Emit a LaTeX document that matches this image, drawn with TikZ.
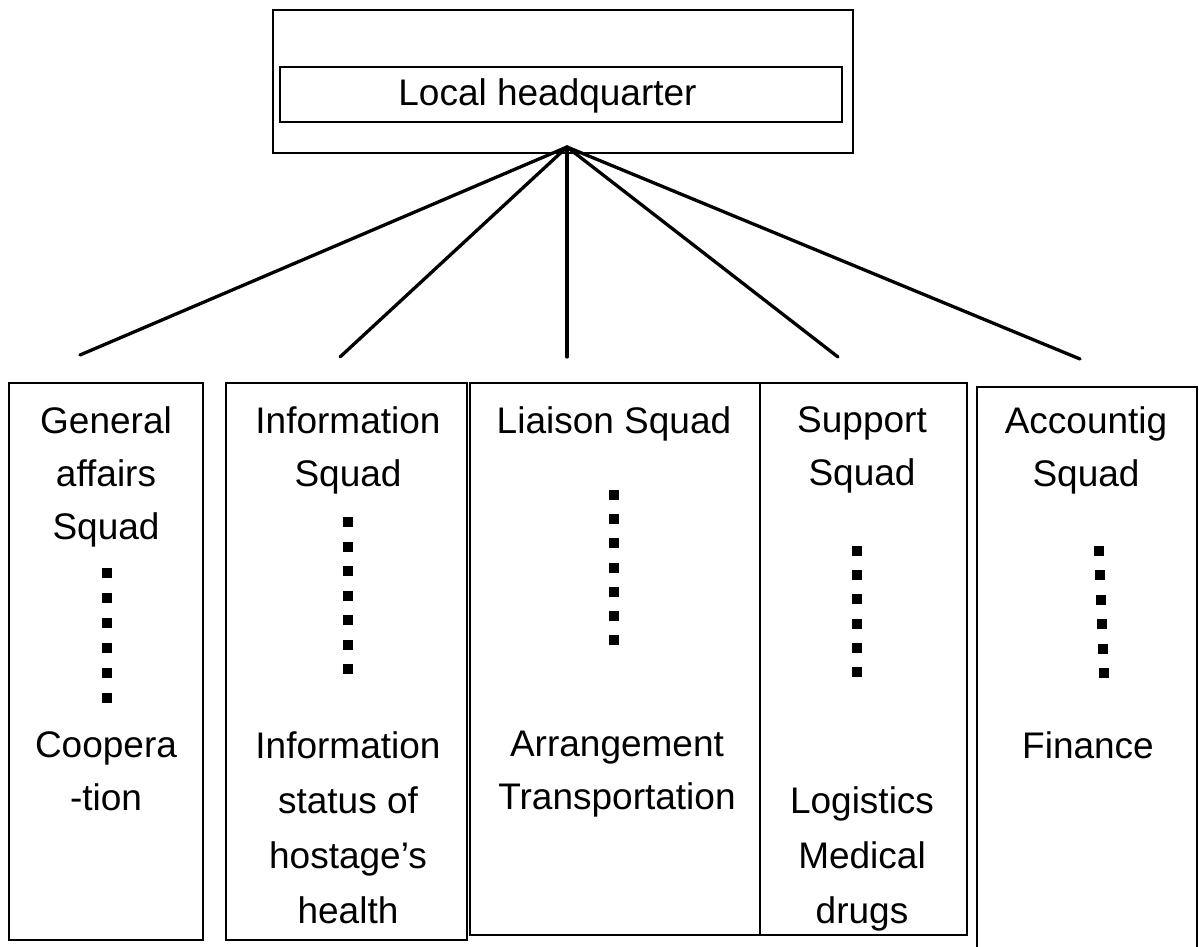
\documentclass[tikz,border=0pt]{standalone}
\usepackage{fontspec}
\setmainfont{Liberation Sans}
\begin{document}
\begin{tikzpicture}[x=1pt,y=-1pt,
  frame/.style={draw=black, line width=1.7pt, rectangle, inner sep=0pt, outer sep=0pt},
  lbl/.style={align=center, inner sep=0pt, anchor=north, font=\fontsize{37}{53}\selectfont},
  spoke/.style={line width=3.3pt, line cap=round},
  dotsq/.style={fill=black}]
\useasboundingbox (0,0) rectangle (1199,946);
% headquarter
\node[frame, minimum width=580pt, minimum height=143pt] (hqouter) at (563,81.5) {};
\node[frame, minimum width=562pt, minimum height=55pt] (hq) at (561,94.5) {};
\node[inner sep=0pt, font=\fontsize{37}{53}\selectfont] (hqtext) at (547.5,96) {Local headquarter};
% squad boxes
\node[frame, minimum width=194pt, minimum height=557pt] (gen) at (106,661.5) {};
\node[frame, minimum width=241pt, minimum height=557pt] (inf) at (346.5,661.5) {};
\node[frame, minimum width=290pt, minimum height=552pt] (lia) at (615,659) {};
\node[frame, minimum width=207pt, minimum height=552pt] (sup) at (863.5,659) {};
\node[frame, minimum width=220pt, minimum height=566pt] (acc) at (1087,670) {};
% texts
\node[lbl] (genT) at (106,406) {General\\affairs\\Squad};
\node[lbl] (genB) at (106,731) {Coopera\\-tion};
\node[lbl] (infT) at (348,406) {Information\\Squad};
\node[lbl, font=\fontsize{37}{55}\selectfont] (infB) at (348,731) {Information\\status of\\hostage’s\\health};
\node[lbl] (liaT) at (614,406) {Liaison Squad};
\node[lbl] (liaB) at (617,731) {Arrangement\\Transportation};
\node[lbl] (supT) at (862,406) {Support\\Squad};
\node[lbl, font=\fontsize{37}{55}\selectfont] (supB) at (862,786) {Logistics\\Medical\\drugs};
\node[lbl] (accT) at (1086,406) {Accountig\\Squad};
\node[lbl] (accB) at (1088,731) {Finance};
% dots
\foreach \k in {0,...,5} \fill[dotsq] (102,568+25*\k) rectangle ++(10,10);
\foreach \k in {0,...,6} \fill[dotsq] (343,517+24.5*\k) rectangle ++(10,10);
\foreach \k in {0,...,6} \fill[dotsq] (609,490+24.2*\k) rectangle ++(10,10);
\foreach \k in {0,...,5} \fill[dotsq] (852,546+24.2*\k) rectangle ++(10,10);
\foreach \k in {0,...,5} \fill[dotsq] (1094+\k,546+24.4*\k) rectangle ++(10,10);
% spokes
\coordinate (apex) at (567,147);
\coordinate (e1) at (80,355);
\coordinate (e2) at (340,357);
\coordinate (e3) at (567,357);
\coordinate (e4) at (838,357);
\coordinate (e5) at (1080,359);
\foreach \e in {e1,e2,e3,e4,e5} \draw[spoke] (apex) -- (\e);
\end{tikzpicture}
\end{document}
